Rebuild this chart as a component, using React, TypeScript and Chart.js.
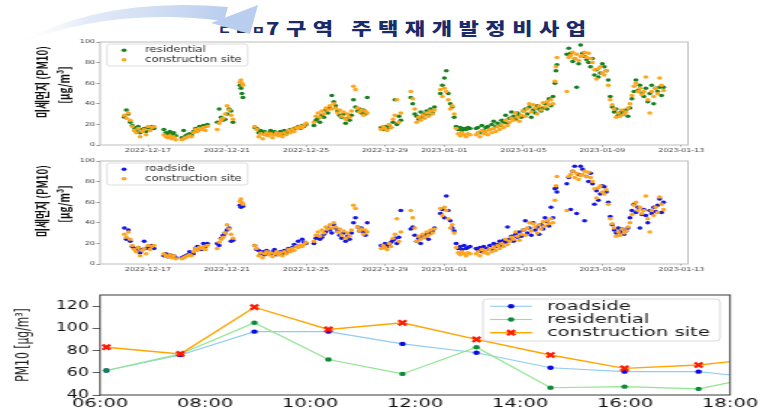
import React, { useEffect, useRef } from "react";
import { Chart, registerables } from "chart.js";

Chart.register(...registerables);

// ---------- Top two panels: PM10 time series (x = days since 2022-12-17 00:00) ----------
const seriesDays = [
  -1.2, -1.1, -1.0, -0.9, -0.8, -0.7, -0.6, -0.5, -0.4, -0.3, -0.2, -0.1, 0.0, 0.1, 0.2, 0.3,
  0.8, 0.9, 1.0, 1.1, 1.2, 1.3, 1.4,
  1.7, 1.8, 1.9, 2.0, 2.1, 2.2, 2.3, 2.4, 2.5, 2.6, 2.7, 2.8, 2.9, 3.0,
  3.5, 3.6, 3.7, 3.8, 3.9, 4.0, 4.1, 4.2, 4.3,
  4.65, 4.7, 4.75, 4.8,
  5.4, 5.5, 5.6, 5.7, 5.8, 5.9, 6.0, 6.1, 6.2, 6.3, 6.4, 6.5, 6.6, 6.7, 6.8, 6.9, 7.0, 7.1, 7.2, 7.3, 7.4, 7.5, 7.6, 7.7, 7.8, 7.9, 8.0,
  8.4, 8.5, 8.6, 8.7, 8.8, 8.9, 9.0, 9.1, 9.2, 9.3, 9.4, 9.5, 9.6, 9.7, 9.8, 9.9, 10.0, 10.1, 10.2, 10.3, 10.4, 10.5, 10.6, 10.7, 10.8, 10.9, 11.0, 11.1,
  11.8, 11.9, 12.0, 12.1, 12.2, 12.3, 12.4, 12.5, 12.6, 12.7, 12.8,
  13.3, 13.4, 13.5, 13.6, 13.7, 13.8, 13.9, 14.0, 14.1, 14.2, 14.3, 14.4, 14.5,
  14.8, 14.9, 15.0, 15.1, 15.2, 15.3, 15.4, 15.5, 15.6, 15.7, 15.8, 15.9, 16.0, 16.1, 16.2, 16.3,
  16.6, 16.7, 16.8, 16.9, 17.0, 17.1, 17.2, 17.3, 17.4, 17.5, 17.6, 17.7, 17.8, 17.9, 18.0, 18.1, 18.2, 18.3, 18.4, 18.5,
  18.6, 18.7, 18.8, 18.9, 19.0, 19.1, 19.2, 19.3, 19.4, 19.5, 19.6, 19.7, 19.8, 19.9, 20.0, 20.1, 20.2, 20.3, 20.4, 20.5,
  20.6, 20.65, 20.7,
  21.2, 21.3, 21.4, 21.5, 21.6, 21.7, 21.8, 21.9, 22.0, 22.1, 22.2, 22.3, 22.4, 22.5,
  22.6, 22.7, 22.8, 22.9, 23.0, 23.1, 23.2, 23.3, 23.4, 23.5, 23.6, 23.7, 23.8, 23.9, 24.0, 24.1, 24.2, 24.3,
  24.4, 24.5, 24.6, 24.7, 24.8, 24.9, 25.0, 25.1, 25.2, 25.3, 25.4, 25.5, 25.6, 25.7, 25.8, 25.9, 26.0, 26.1,
];

const residentialPM = [
  27, 34, 30, 22, 19, 17, 14, 18, 12, 15, 16, 13, 17, 15, 18, 16,
  15, 12, 11, 13, 10, 12, 9,
  7, 14, 9, 10, 11, 10, 13, 16, 14, 18, 17, 19, 18, 20,
  22, 35, 27, 24, 25, 30, 35, 33, 22,
  58, 55, 50, 46,
  17, 16, 12, 14, 11, 13, 10, 12, 14, 11, 13, 12, 10, 13, 11, 14, 12, 13, 15, 14, 16, 17, 18, 16, 19, 18, 20,
  19, 24, 26, 22, 29, 27, 34, 31, 36, 48, 42, 38, 33, 29, 27, 30, 21, 26, 24, 29, 44, 37, 33, 35, 31, 34, 30, 46,
  17, 15, 18, 16, 19, 17, 22, 44, 20, 28, 24,
  46, 40, 30, 28, 25, 32, 27, 30, 33, 29, 35, 31, 37,
  50, 58, 65, 72, 50, 40, 37, 27, 18, 15, 17, 14, 16, 15, 17, 16,
  16, 17, 12, 19, 14, 17, 18, 15, 20, 23, 18, 21, 19, 24, 22, 29, 21, 26, 32, 28,
  25, 31, 29, 27, 33, 35, 30, 37, 27, 34, 31, 38, 35, 33, 36, 40, 35, 45, 38, 47,
  60, 72, 78,
  88, 94, 89, 81, 84, 56, 79, 97, 89, 86, 83, 80, 76, 84,
  68, 73, 66, 70, 79, 76, 72, 63, 47, 37, 32, 35, 29, 31, 33, 30, 34, 28,
  36, 45, 52, 63, 53, 58, 50, 47, 55, 42, 50, 58, 40, 55, 52, 56, 48, 56,
];

const constructionPM = [
  29, 26, 31, 24, 18, 14, 12, 16, 8, 13, 15, 10, 18, 14, 17, 18,
  10, 8, 7, 9, 6, 8, 5,
  5, 6, 7, 8, 9, 8, 12, 15, 13, 16, 15, 17, 14, 18,
  15, 21, 24, 26, 30, 38, 34, 29, 25,
  61, 63, 60, 58,
  18, 15, 8, 11, 6, 10, 12, 9, 11, 7, 10, 12, 9, 11, 8, 12, 10, 14, 12, 15, 13, 17, 16, 18, 17, 19, 21,
  22, 28, 31, 27, 33, 30, 36, 34, 38, 35, 40, 36, 31, 34, 28, 32, 25, 30, 27, 33, 57, 54, 36, 32, 34, 29, 33, 31,
  15, 18, 16, 14, 20, 17, 25, 29, 44, 22, 31,
  52, 45, 35, 22, 27, 24, 29, 26, 31, 28, 33, 30, 34,
  54, 47, 55, 52, 44, 35, 38, 30, 16, 11, 9, 12, 10, 8, 11, 10,
  10, 12, 8, 14, 11, 13, 10, 15, 12, 16, 13, 18, 15, 20, 17, 24, 19, 22, 26, 24,
  31, 27, 23, 29, 33, 28, 35, 40, 32, 39, 36, 30, 38, 34, 41, 37, 42, 39, 44, 40,
  62, 76, 85,
  52, 85, 87, 90, 84, 88, 82, 86, 87, 90, 85, 89, 84, 80,
  73, 64, 74, 76, 70, 68, 72, 58, 44, 39, 35, 27, 31, 28, 34, 30, 32, 36,
  40, 48, 57, 60, 52, 55, 49, 52, 66, 44, 31, 52, 47, 55, 50, 65, 58, 53,
];

const roadsidePM = [
  35, 24, 33, 22, 17, 15, 13, 16, 11, 14, 22, 15, 16, 17, 18, 15,
  8, 10, 7, 9, 8, 8, 6,
  6, 7, 8, 9, 12, 11, 10, 15, 17, 16, 14, 20, 17, 20,
  20, 18, 25, 28, 30, 33, 35, 22, 23,
  57, 55, 57, 56,
  18, 14, 13, 10, 12, 9, 13, 11, 10, 12, 14, 9, 11, 12, 10, 13, 11, 15, 14, 16, 19, 17, 22, 18, 24, 21, 20,
  20, 25, 27, 24, 26, 29, 31, 35, 33, 30, 38, 35, 32, 28, 25, 30, 22, 27, 24, 30, 40, 45, 36, 32, 35, 31, 28, 40,
  18, 16, 20, 17, 19, 21, 23, 25, 20, 26, 52,
  34, 36, 28, 22, 25, 20, 27, 26, 29, 24, 30, 32, 35,
  49, 53, 45, 66, 52, 42, 35, 32, 20, 15, 17, 14, 18, 15, 16, 17,
  15, 13, 16, 12, 17, 14, 15, 18, 14, 20, 17, 19, 22, 18, 23, 21, 36, 24, 27, 22,
  29, 26, 31, 27, 33, 42, 30, 35, 28, 40, 33, 36, 29, 38, 34, 45, 41, 37, 55, 45,
  73, 74, 70,
  78, 84, 53, 90, 95, 49, 87, 95, 92, 42, 85, 80, 88, 78,
  58, 71, 62, 68, 76, 75, 70, 60, 46, 38, 33, 30, 35, 31, 34, 29, 32, 35,
  45, 52, 58, 50, 55, 35, 48, 53, 47, 40, 52, 49, 55, 51, 57, 63, 50, 60,
];

const dateTickDays = [0, 4, 8, 12, 15, 19, 23, 27];
const dateTickLabels = ["2022-12-17", "2022-12-21", "2022-12-25", "2022-12-29", "2023-01-01", "2023-01-05", "2023-01-09", "2023-01-13"];
const dateAxisMin = -2.43;
const dateAxisMax = 27.34;
const pmTicks = [0, 20, 40, 60, 80, 100];

// ---------- Bottom panel: hourly PM10 ----------
const hourTimes = [6.12, 7.53, 8.94, 10.35, 11.76, 13.17, 14.58, 15.99, 17.4, 18.81];
const hourRoadside = [62, 76, 97, 97, 86, 78, 64.5, 61, 61, 54];
const hourResidential = [62, 77, 105, 72, 59, 83, 46.5, 47.5, 45.5, 59];
const hourConstruction = [83, 77, 119, 99, 105, 90, 76, 64, 67, 74];
const hourTicks = [6, 8, 10, 12, 14, 16, 18];
const hourTickLabels = ["06:00", "08:00", "10:00", "12:00", "14:00", "16:00", "18:00"];
const pm10Ticks = [40, 60, 80, 100, 120];

const TITLE_HEAD = "ㄷㅂㅁ";
const TITLE_MAIN = "7구역 주택재개발정비사업";
const DJ = "'DejaVu Sans', sans-serif";

// ---------- plugins ----------
function drawMarker(ctx: any, style: string, x: number, y: number, r: number, fill: string, stroke: string, bw: number) {
  ctx.save();
  if (style === "crossRot") {
    const d = r * Math.SQRT1_2;
    ctx.strokeStyle = stroke;
    ctx.lineWidth = bw;
    ctx.beginPath();
    ctx.moveTo(x - d, y - d);
    ctx.lineTo(x + d, y + d);
    ctx.moveTo(x + d, y - d);
    ctx.lineTo(x - d, y + d);
    ctx.stroke();
  } else {
    ctx.fillStyle = fill;
    ctx.beginPath();
    ctx.arc(x, y, r, 0, Math.PI * 2);
    ctx.fill();
  }
  ctx.restore();
}

const framePlugin = {
  id: "frame",
  afterDatasetsDraw(chart: any, _a: any, o: any) {
    const { ctx, chartArea: a } = chart;
    ctx.save();
    ctx.strokeStyle = o.color;
    ctx.lineWidth = o.width;
    ctx.strokeRect(a.left, a.top, a.right - a.left, a.bottom - a.top);
    ctx.restore();
  },
};

const legendPlugin = {
  id: "mplLegend",
  afterDraw(chart: any, _a: any, o: any) {
    const { ctx, chartArea: a } = chart;
    const x = a.left + o.x;
    const y = a.top + o.y;
    ctx.save();
    ctx.beginPath();
    ctx.roundRect(x, y, o.w, o.h, o.radius);
    ctx.fillStyle = "rgba(255,255,255,0.85)";
    ctx.fill();
    ctx.strokeStyle = o.borderColor;
    ctx.lineWidth = 0.8;
    ctx.stroke();
    chart.data.datasets.forEach((ds: any, i: number) => {
      const cy = y + o.firstRow + i * o.rowH;
      const mx = x + o.markerX;
      if (o.lineW) {
        ctx.strokeStyle = ds.borderColor;
        ctx.lineWidth = ds.borderWidth;
        ctx.beginPath();
        ctx.moveTo(mx - o.lineW / 2, cy);
        ctx.lineTo(mx + o.lineW / 2, cy);
        ctx.stroke();
      }
      drawMarker(
        ctx,
        ds.pointStyle || "circle",
        mx,
        cy,
        ds.pointRadius,
        ds.pointBackgroundColor || ds.backgroundColor,
        ds.pointBorderColor || ds.borderColor,
        ds.pointBorderWidth || 0
      );
      ctx.fillStyle = o.textColor;
      ctx.font = o.font;
      ctx.textAlign = "left";
      ctx.textBaseline = "middle";
      ctx.fillText(ds.label, x + o.textX, cy);
    });
    ctx.restore();
  },
};

const sideTitlePlugin = {
  id: "sideTitle",
  afterDraw(chart: any, _a: any, o: any) {
    if (!o || !o.lines) return;
    const { ctx, chartArea: a } = chart;
    ctx.save();
    ctx.font = o.font;
    ctx.fillStyle = o.color;
    ctx.textAlign = "center";
    ctx.textBaseline = "middle";
    o.lines.forEach((line: string, i: number) => {
      ctx.save();
      ctx.translate(o.xs[i], a.top + o.ys[i]);
      ctx.rotate(-Math.PI / 2);
      ctx.fillText(line, 0, 0);
      ctx.restore();
    });
    ctx.restore();
  },
};

// ---------- configs ----------
type Series = { label: string; values: number[]; color: string };

function scatterConfig(first: Series, second: Series): any {
  const mk = (s: Series, order: number) => ({
    label: s.label,
    data: seriesDays.map((d, i) => ({ x: d, y: s.values[i] })),
    backgroundColor: s.color,
    borderColor: s.color,
    pointRadius: 1.75,
    pointHoverRadius: 1.75,
    pointBorderWidth: 0,
    borderWidth: 0,
    order,
  });
  return {
    type: "scatter",
    data: { datasets: [mk(first, 1), mk(second, 0)] },
    options: {
      responsive: false,
      animation: false,
      devicePixelRatio: 1,
      events: [],
      layout: { padding: { left: 0, top: 8, right: 21.5, bottom: 0 } },
      plugins: {
        legend: { display: false },
        tooltip: { enabled: false },
        frame: { color: "#bdbdbd", width: 1 },
        mplLegend: {
          x: 4.8, y: 2, w: 97, h: 22, radius: 2, borderColor: "#d6d6d6",
          firstRow: 6.3, rowH: 9.4, markerX: 11.7, textX: 26.2,
          font: `8px ${DJ}`, textColor: "#2a2a2a",
        },
        sideTitle: {
          lines: ["미세먼지 (PM10)", "[μg/m³]"],
          xs: [29, 44],
          ys: [40, 43],
          font: `bold 9.8px 'Noto Sans CJK KR', ${DJ}`,
          color: "#111",
        },
      },
      scales: {
        x: {
          type: "linear",
          min: dateAxisMin,
          max: dateAxisMax,
          afterBuildTicks: (s: any) => {
            s.ticks = dateTickDays.map((v) => ({ value: v }));
          },
          afterFit: (s: any) => {
            s.height = 13;
            s.paddingLeft = 0;
            s.paddingRight = 0;
          },
          ticks: {
            autoSkip: false,
            maxRotation: 0,
            minRotation: 0,
            padding: 0.5,
            color: "#444",
            font: { size: 5.5, family: DJ },
            callback: (v: number) => dateTickLabels[dateTickDays.indexOf(v)],
          },
          grid: { drawOnChartArea: false, tickLength: 1.5, color: "#777", lineWidth: 0.8 },
          border: { display: false },
        },
        y: {
          min: 0,
          max: 100,
          afterBuildTicks: (s: any) => {
            s.ticks = pmTicks.map((v) => ({ value: v }));
          },
          afterFit: (s: any) => {
            s.width = 69;
            s.paddingTop = 0;
            s.paddingBottom = 0;
          },
          ticks: { padding: 1, color: "#444", font: { size: 5.5, family: DJ } },
          grid: { drawOnChartArea: false, tickLength: 2.5, color: "#777", lineWidth: 0.8 },
          border: { display: false },
        },
      },
    },
    plugins: [framePlugin, legendPlugin, sideTitlePlugin],
  };
}

function lineConfig(): any {
  const mk = (label: string, values: number[], line: string, point: string, style: string, order: number, extra: any) => ({
    label,
    data: hourTimes.map((t, i) => ({ x: t, y: values[i] })),
    borderColor: line,
    backgroundColor: point,
    pointBackgroundColor: point,
    pointBorderColor: point,
    pointStyle: style,
    borderWidth: 1.1,
    pointRadius: 2.2,
    pointHoverRadius: 2.2,
    pointBorderWidth: 0,
    tension: 0,
    fill: false,
    order,
    ...extra,
  });
  return {
    type: "line",
    data: {
      datasets: [
        mk("roadside", hourRoadside, "#8fcdf0", "#0a0ae6", "circle", 2, {}),
        mk("residential", hourResidential, "#8ee68e", "#0c8a3a", "circle", 1, {}),
        mk("construction site", hourConstruction, "#ffa500", "#ff1a00", "crossRot", 0, {
          borderWidth: 1.4,
          pointRadius: 3.6,
          pointHoverRadius: 3.6,
          pointBorderWidth: 2.3,
          pointBorderColor: "#ff1a00",
        }),
      ],
    },
    options: {
      responsive: false,
      animation: false,
      devicePixelRatio: 1,
      events: [],
      layout: { padding: { left: 0, top: 10, right: 25.3, bottom: 0 } },
      plugins: {
        legend: { display: false },
        tooltip: { enabled: false },
        frame: { color: "#3a3a3a", width: 1 },
        mplLegend: {
          x: 255.3, y: 4, w: 158, h: 42, radius: 3, borderColor: "#d0d0d0",
          firstRow: 7.3, rowH: 13.2, markerX: 18.7, lineW: 28, textX: 42.7,
          font: `13px ${DJ}`, textColor: "#1a1a1a",
        },
      },
      scales: {
        x: {
          type: "linear",
          min: 6,
          max: 18,
          afterBuildTicks: (s: any) => {
            s.ticks = hourTicks.map((v) => ({ value: v }));
          },
          afterFit: (s: any) => {
            s.height = 19;
            s.paddingLeft = 0;
            s.paddingRight = 0;
          },
          ticks: {
            autoSkip: false,
            maxRotation: 0,
            minRotation: 0,
            padding: 0.5,
            color: "#111",
            font: { size: 13, family: DJ },
            callback: (v: number) => hourTickLabels[hourTicks.indexOf(v)],
          },
          grid: { drawOnChartArea: false, drawTicks: false },
          border: { display: false },
        },
        y: {
          min: 40,
          max: 130,
          afterBuildTicks: (s: any) => {
            s.ticks = pm10Ticks.map((v) => ({ value: v }));
          },
          afterFit: (s: any) => {
            s.width = 66.7;
            s.paddingTop = 0;
            s.paddingBottom = 0;
          },
          ticks: { padding: 2.5, color: "#111", font: { size: 11.5, family: DJ } },
          grid: { drawOnChartArea: false, tickLength: 5, color: "#333", lineWidth: 0.8 },
          border: { display: false },
          title: {
            display: true,
            text: "PM10 [μg/m³]",
            color: "#222",
            font: { size: 12, family: "'DejaVu Sans Condensed', 'Liberation Sans Narrow', 'DejaVu Sans', sans-serif" },
            padding: { top: 9, bottom: 0 },
          },
        },
      },
    },
    plugins: [framePlugin, legendPlugin],
  };
}

function ChartBox(props: { left: number; top: number; width: number; height: number; scale: number; make: () => any }) {
  const ref = useRef<HTMLCanvasElement>(null);
  useEffect(() => {
    const chart = new Chart(ref.current as HTMLCanvasElement, props.make());
    return () => chart.destroy();
  }, []);
  return (
    <div
      style={{
        position: "absolute",
        left: props.left,
        top: props.top,
        width: props.width,
        height: props.height,
        transform: `scaleX(${props.scale})`,
        transformOrigin: "0 0",
      }}
    >
      <canvas
        ref={ref}
        width={props.width}
        height={props.height}
        style={{ width: props.width, height: props.height, display: "block" }}
      />
    </div>
  );
}

const titleBase: any = {
  position: "absolute",
  whiteSpace: "nowrap",
  fontFamily: "'Noto Sans CJK KR', sans-serif",
  fontWeight: 900,
  lineHeight: 1,
  color: "#1b2b68",
  transformOrigin: "0 0",
};

export default function App() {
  return (
    <div
      style={{
        position: "fixed",
        left: 0,
        top: 0,
        width: 768,
        height: 414,
        overflow: "hidden",
        background: "#ffffff",
      }}
    >
      <div style={{ ...titleBase, left: 218, top: 24, fontSize: 12, letterSpacing: 3, transform: "scaleX(1.2)" }}>
        {TITLE_HEAD}
      </div>
      <div style={{ ...titleBase, left: 266, top: 19, fontSize: 17, letterSpacing: 5, transform: "scaleX(1.3)" }}>
        {TITLE_MAIN}
      </div>
      <svg width={300} height={60} style={{ position: "absolute", left: 0, top: 0 }}>
        <defs>
          <linearGradient id="arrowGrad" x1="0" y1="0" x2="1" y2="0">
            <stop offset="0" stopColor="#ffffff" stopOpacity="0" />
            <stop offset="0.35" stopColor="#dbe5f5" stopOpacity="0.8" />
            <stop offset="1" stopColor="#b9cdee" />
          </linearGradient>
        </defs>
        <path d="M 12 46 Q 100 -4 228 7 L 224 21 Q 110 6 12 46 Z" fill="url(#arrowGrad)" />
        <polygon points="211,23 258,5 250,34" fill="#b9cdee" />
      </svg>
      <ChartBox
        left={0}
        top={34}
        width={496}
        height={124}
        scale={1.45}
        make={() =>
          scatterConfig(
            { label: "residential", values: residentialPM, color: "#16801f" },
            { label: "construction site", values: constructionPM, color: "#ffa51c" }
          )
        }
      />
      <ChartBox
        left={0}
        top={153}
        width={496}
        height={124}
        scale={1.45}
        make={() =>
          scatterConfig(
            { label: "roadside", values: roadsidePM, color: "#1414e6" },
            { label: "construction site", values: constructionPM, color: "#ffa51c" }
          )
        }
      />
      <ChartBox left={0} top={285} width={512} height={129} scale={1.5} make={lineConfig} />
    </div>
  );
}
